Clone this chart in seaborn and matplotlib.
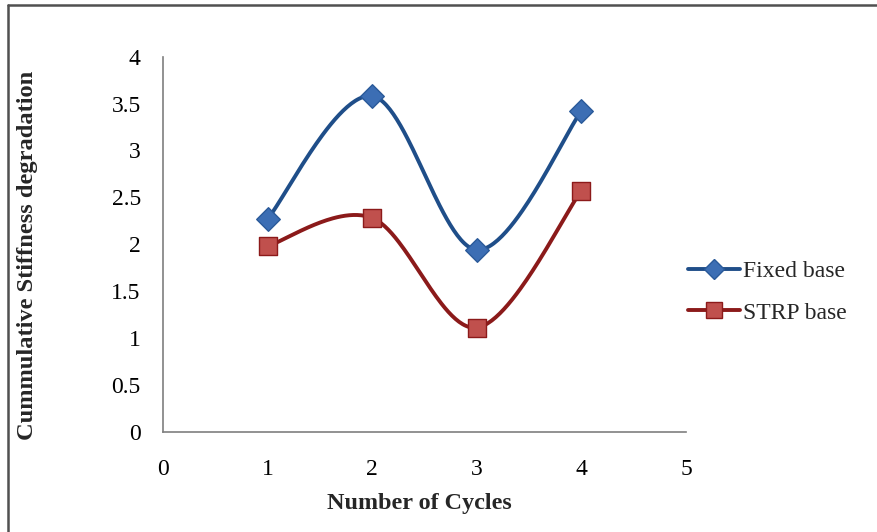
import numpy as np
import pandas as pd
import matplotlib
matplotlib.use("Agg")
import matplotlib.pyplot as plt
from matplotlib.lines import Line2D
import seaborn as sns

# ---- data ----
cycles = [1, 2, 3, 4]
fixed_base = [2.27, 3.58, 1.94, 3.42]
strp_base = [1.98, 2.28, 1.11, 2.57]
series_names = ["Fixed base", "STRP base"]
x_ticks = [0, 1, 2, 3, 4, 5]
y_ticks = [0, 0.5, 1, 1.5, 2, 2.5, 3, 3.5, 4]
x_label = "Number of Cycles"
y_label = "Cummulative Stiffness degradation"


def smooth(xs, ys, n=60):
    """Excel-like smoothed line (Catmull-Rom Bezier)."""
    P = np.column_stack([xs, ys]).astype(float)
    out = []
    for i in range(len(P) - 1):
        p0 = P[i - 1] if i > 0 else P[i]
        p1 = P[i]
        p2 = P[i + 1]
        p3 = P[i + 2] if i + 2 < len(P) else P[i + 1]
        c1 = p1 + (p2 - p0) / 6.0
        c2 = p2 - (p3 - p1) / 6.0
        t = np.linspace(0, 1, n)[:, None]
        seg = ((1 - t) ** 3) * p1 + 3 * ((1 - t) ** 2) * t * c1 + 3 * (1 - t) * t ** 2 * c2 + t ** 3 * p2
        out.append(seg if i == 0 else seg[1:])
    arr = np.vstack(out)
    return arr[:, 0], arr[:, 1]


sns.set_theme(style="white")
plt.rcParams["font.family"] = ["Liberation Serif", "DejaVu Serif"]

fig = plt.figure(figsize=(8.77, 5.32), dpi=100)
ax = fig.add_axes([163 / 877, 1 - 431.7 / 532, (686 - 163) / 877, (431.7 - 56.7) / 532])

styles = [
    dict(line="#1F4E89", face="#3C6EB4", edge="#2A5A9A", marker="D", ms=12, lms=10),
    dict(line="#8B1A1A", face="#C0504D", edge="#8C1A1A", marker="s", ms=13.5, lms=11),
]

handles = []
for name, vals, st in zip(series_names, [fixed_base, strp_base], styles):
    sx, sy = smooth(cycles, vals)
    curve = pd.DataFrame({"x": sx, "y": sy})
    sns.lineplot(data=curve, x="x", y="y", ax=ax, sort=False, estimator=None,
                 color=st["line"], linewidth=2.8, zorder=2)
    pts = pd.DataFrame({"x": cycles, "y": vals})
    sns.scatterplot(data=pts, x="x", y="y", ax=ax, marker=st["marker"],
                    s=st["ms"] ** 2, color=st["face"], edgecolor=st["edge"],
                    linewidth=1.0, zorder=3)
    handles.append(Line2D([0], [0], color=st["line"], linewidth=2.8,
                          marker=st["marker"], markersize=st["lms"],
                          markerfacecolor=st["face"], markeredgecolor=st["edge"],
                          markeredgewidth=1.0, label=name))

ax.set_xlim(0, 5)
ax.set_ylim(0, 4)
ax.set_xticks(x_ticks)
ax.set_yticks(y_ticks)
ax.set_xticklabels([str(v) for v in x_ticks])
ax.set_yticklabels([("%g" % v) for v in y_ticks])
ax.tick_params(axis="both", length=0, labelsize=17, colors="black")
ax.tick_params(axis="y", pad=16)
ax.tick_params(axis="x", pad=20)
ax.set_xlabel("")
ax.set_ylabel("")
for side in ["top", "right"]:
    ax.spines[side].set_visible(False)
for side in ["left", "bottom"]:
    ax.spines[side].set_color("#7F7F7F")
    ax.spines[side].set_linewidth(1.2)
ax.set_facecolor("white")
ax.grid(False)

fig.text(419 / 877, 1 - 503 / 532, x_label, ha="center", va="center",
         fontsize=17.4, fontweight="bold")
fig.text(28 / 877, 1 - 255 / 532, y_label, ha="center", va="center",
         rotation=90, fontsize=17.6, fontweight="bold")

fig.legend(handles=handles, loc="center left", bbox_to_anchor=(688 / 877, 1 - 292 / 532),
           frameon=False, fontsize=17, handlelength=2.2, handletextpad=0.15,
           labelspacing=0.85, borderpad=0, borderaxespad=0)

# figure border (top and left visible)
fig.add_artist(Line2D([8 / 877, 1.0], [1 - 5 / 532, 1 - 5 / 532], transform=fig.transFigure,
                      color="#505050", linewidth=1.8))
fig.add_artist(Line2D([8 / 877, 8 / 877], [0.0, 1 - 5 / 532], transform=fig.transFigure,
                      color="#505050", linewidth=1.8))

fig.savefig("out.png", dpi=100, facecolor="white")
